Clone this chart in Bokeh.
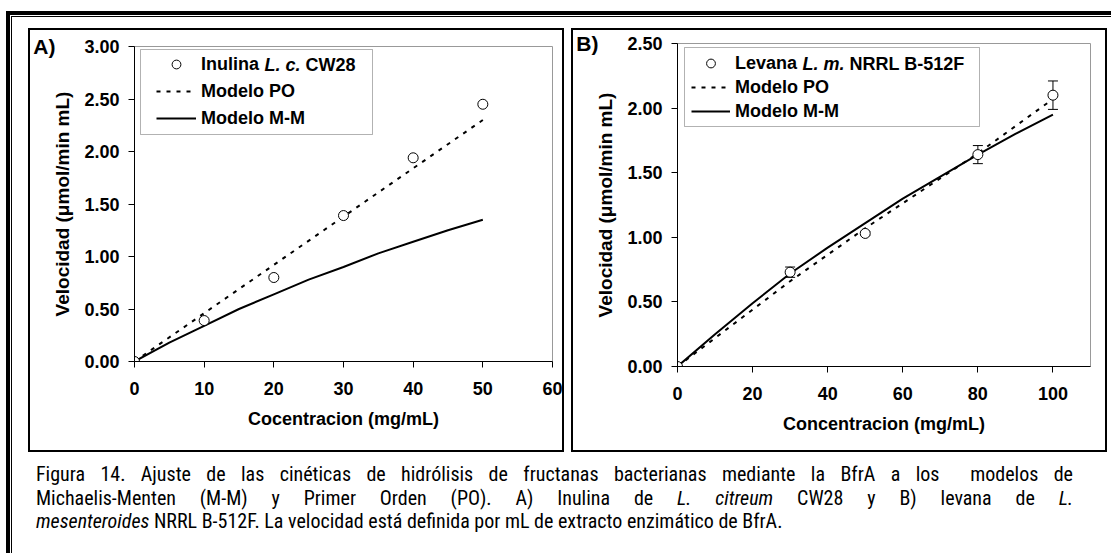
from bokeh.plotting import figure
from bokeh.models import (Range1d, FixedTicker, PrintfTickFormatter, Legend, LegendItem,
                          Label, BoxAnnotation, Whisker, ColumnDataSource, Div, TeeHead,
                          LinearAxis)
from bokeh.layouts import column, row
from bokeh.embed import file_html
from bokeh.resources import INLINE

# ---------------- data ----------------
# Panel A: inulina L. citreum CW28
a_conc = [0, 10, 20, 30, 40, 50]
a_vel = [0.00, 0.39, 0.80, 1.39, 1.94, 2.45]
a_po_x = [0, 10, 20, 30, 40, 50]
a_po_y = [0.00, 0.46, 0.92, 1.38, 1.84, 2.30]
a_mm_x = [0, 5, 10, 15, 20, 25, 30, 35, 40, 45, 50]
a_mm_y = [0.00, 0.18, 0.34, 0.50, 0.64, 0.78, 0.90, 1.03, 1.14, 1.25, 1.35]
a_xticks = [0, 10, 20, 30, 40, 50, 60]
a_yticks = [0.0, 0.5, 1.0, 1.5, 2.0, 2.5, 3.0]

# Panel B: levana L. mesenteroides NRRL B-512F
b_conc = [0, 30, 50, 80, 100]
b_vel = [0.00, 0.73, 1.03, 1.64, 2.10]
b_err = [0.00, 0.04, 0.015, 0.07, 0.11]
b_po_x = [0, 30, 50, 80, 100]
b_po_y = [0.00, 0.66, 1.07, 1.65, 2.07]
b_mm_x = [0, 10, 20, 30, 40, 50, 60, 70, 80, 90, 100]
b_mm_y = [0.00, 0.25, 0.49, 0.72, 0.92, 1.11, 1.30, 1.47, 1.64, 1.80, 1.95]
b_xticks = [0, 20, 40, 60, 80, 100]
b_yticks = [0.0, 0.5, 1.0, 1.5, 2.0, 2.5]

ylabel = "Velocidad (\u03bcmol/min mL)"
FONT = "Liberation Sans"
DASH = "4 6"


def style_axes(p, ylabel_text, xlabel_text, xticks, yticks):
    p.xaxis.ticker = FixedTicker(ticks=xticks)
    p.yaxis.ticker = FixedTicker(ticks=yticks)
    p.yaxis.formatter = PrintfTickFormatter(format="%.2f")
    p.xaxis.formatter = PrintfTickFormatter(format="%d")
    p.xaxis.axis_label = xlabel_text
    p.yaxis.axis_label = ylabel_text
    for ax in (p.xaxis, p.yaxis):
        ax.axis_line_color = "black"
        ax.axis_line_width = 1
        ax.major_tick_line_color = "black"
        ax.major_tick_out = 6
        ax.major_tick_in = 0
        ax.minor_tick_line_color = None
        ax.major_label_text_font = FONT
        ax.major_label_text_font_style = "bold"
        ax.major_label_text_font_size = "18px"
        ax.major_label_text_color = "black"
        ax.axis_label_text_font = FONT
        ax.axis_label_text_font_style = "bold"
        ax.axis_label_text_font_size = "18px"
        ax.axis_label_text_color = "black"
    p.yaxis.axis_label_text_font_size = "19px"
    p.xaxis.major_label_standoff = 14
    p.yaxis.major_label_standoff = 9
    p.xaxis.axis_label_standoff = 11
    p.yaxis.axis_label_standoff = 8
    p.grid.visible = False


def panel_tag(p, tick_value, text):
    ax = LinearAxis(ticker=FixedTicker(ticks=[tick_value]),
                    major_label_overrides={tick_value: text},
                    axis_line_color=None, major_tick_line_color=None,
                    minor_tick_line_color=None, major_tick_out=0, major_tick_in=0,
                    major_label_standoff=-6,
                    major_label_text_font=FONT, major_label_text_font_style="bold",
                    major_label_text_font_size="21px", major_label_text_color="black")
    p.add_layout(ax, "left")


def make_fig(xmax, ymax, mb_right, mb_top, mb_bottom):
    p = figure(width=532, height=420, output_backend="svg", toolbar_location=None,
               x_range=Range1d(0, xmax), y_range=Range1d(0, ymax),
               min_border_left=102, min_border_right=mb_right,
               min_border_top=mb_top, min_border_bottom=mb_bottom,
               background_fill_color="white", border_fill_color="white")
    p.outline_line_color = "#999999"
    p.outline_line_width = 1
    p.styles = {"outline": "2px solid #000"}
    return p


# ---------------- panel A ----------------
pa = make_fig(60, 3.0, 10, 16, 89)
style_axes(pa, ylabel, "Cocentracion (mg/mL)", a_xticks, a_yticks)
panel_tag(pa, 3.0, "A)")
ra_mm = pa.line(a_mm_x, a_mm_y, line_color="black", line_width=2)
ra_po = pa.line(a_po_x, a_po_y, line_color="black", line_width=2, line_dash=DASH)
ra_pt = pa.scatter(a_conc, a_vel, size=10, marker="circle", fill_color="white",
                   line_color="black", line_width=1)

pa.add_layout(BoxAnnotation(left=6, right=238, bottom=227, top=312,
                            left_units="screen", right_units="screen",
                            bottom_units="screen", top_units="screen",
                            fill_color="white", fill_alpha=1.0,
                            line_color="black", line_width=1))
leg_a = Legend(items=[LegendItem(label="Inulina", renderers=[ra_pt]),
                      LegendItem(label="Modelo PO", renderers=[ra_po]),
                      LegendItem(label="Modelo M-M", renderers=[ra_mm])],
               location=(22, 232), margin=0, padding=0, spacing=5,
               glyph_width=40, glyph_height=22, label_height=22, label_standoff=5,
               border_line_alpha=0, background_fill_alpha=0,
               label_text_font=FONT, label_text_font_style="bold",
               label_text_font_size="18px", label_text_color="black")
pa.add_layout(leg_a)
for txt, xx, st in [("L. c.", 130, "bold italic"), ("CW28", 171, "bold")]:
    pa.add_layout(Label(x=xx, y=297, x_units="screen", y_units="screen", text=txt,
                        text_font=FONT, text_font_style=st, text_font_size="18px",
                        text_baseline="middle", text_color="black"))

# ---------------- panel B ----------------
pb = make_fig(110, 2.5, 15, 13, 84)
style_axes(pb, ylabel, "Concentracion (mg/mL)", b_xticks, b_yticks)
panel_tag(pb, 2.5, "B)")
rb_mm = pb.line(b_mm_x, b_mm_y, line_color="black", line_width=2)
rb_po = pb.line(b_po_x, b_po_y, line_color="black", line_width=2, line_dash=DASH)
src_b = ColumnDataSource(dict(x=b_conc, y=b_vel,
                              upper=[v + e for v, e in zip(b_vel, b_err)],
                              lower=[v - e for v, e in zip(b_vel, b_err)]))
wh = Whisker(source=src_b, base="x", upper="upper", lower="lower", level="underlay",
             line_color="black", line_width=1,
             upper_head=TeeHead(size=10, line_color="black", line_width=1),
             lower_head=TeeHead(size=10, line_color="black", line_width=1))
pb.add_layout(wh)
rb_pt = pb.scatter("x", "y", source=src_b, size=10, marker="circle", fill_color="white",
                   line_color="black", line_width=1)

pb.add_layout(BoxAnnotation(left=7, right=302, bottom=240, top=319,
                            left_units="screen", right_units="screen",
                            bottom_units="screen", top_units="screen",
                            fill_color="white", fill_alpha=1.0,
                            line_color="black", line_width=1))
leg_b = Legend(items=[LegendItem(label="Levana", renderers=[rb_pt]),
                      LegendItem(label="Modelo PO", renderers=[rb_po]),
                      LegendItem(label="Modelo M-M", renderers=[rb_mm])],
               location=(14, 244), margin=0, padding=0, spacing=2,
               glyph_width=39, glyph_height=22, label_height=22, label_standoff=5,
               border_line_alpha=0, background_fill_alpha=0,
               label_text_font=FONT, label_text_font_style="bold",
               label_text_font_size="18px", label_text_color="black")
pb.add_layout(leg_b)
for txt, xx, st in [("L. m.", 125, "bold italic"), ("NRRL B-512F", 172, "bold")]:
    pb.add_layout(Label(x=xx, y=303, x_units="screen", y_units="screen", text=txt,
                        text_font=FONT, text_font_style=st, text_font_size="18px",
                        text_baseline="middle", text_color="black"))

# ---------------- caption ----------------
cap_font = "'Liberation Sans Narrow','Arial Narrow','Roboto Condensed','DejaVu Sans Condensed',sans-serif"
just = "text-align:justify;text-align-last:justify;"
caption_html = (
    f"<div style=\"font-family:{cap_font};font-size:20px;line-height:23.5px;color:#000;"
    f"padding:13px 7px 0 24px;width:1068px;\">"
    f"<div style=\"{just}\">Figura 14. Ajuste de las cin\u00e9ticas de hidr\u00f3lisis de fructanas "
    f"bacterianas mediante la BfrA a los&nbsp; modelos de</div>"
    f"<div style=\"{just}\">Michaelis-Menten (M-M) y Primer Orden (PO). A) Inulina de "
    f"<i>L. citreum</i> CW28 y B) levana de <i>L.</i></div>"
    f"<div><i>mesenteroides</i> NRRL B-512F. La velocidad est\u00e1 definida por mL de "
    f"extracto enzim\u00e1tico de BfrA.</div></div>"
)
caption = Div(text=caption_html, width=1099, height=103, margin=0)

panels = row(column(pa, margin=0), column(pb, margin=0), spacing=11, margin=(13, 0, 0, 18))
inner = column(panels, caption, spacing=0, margin=(1, 0, 0, 1),
               styles={"border-left": "1px solid #000", "border-top": "1px solid #000"})
root = column(inner, spacing=0, margin=(11, 0, 0, 6),
              styles={"border-left": "4px solid #000", "border-top": "4px solid #000"})

open("out.html", "w").write(file_html(root, INLINE))
